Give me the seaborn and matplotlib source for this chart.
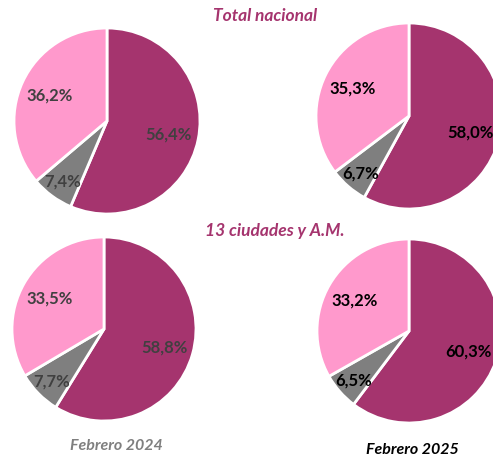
import matplotlib
matplotlib.use("Agg")
import matplotlib.pyplot as plt
import seaborn as sns
import numpy as np

sns.set_theme(style="white")
plt.rcParams['font.family'] = ['Lato', 'DejaVu Sans']

# Shares per panel: [magenta, gray, pink]
feb2024_total = [56.4, 7.4, 36.2]
feb2025_total = [58.0, 6.7, 35.3]
feb2024_13c = [58.8, 7.7, 33.5]
feb2025_13c = [60.3, 6.5, 33.2]

slice_colors = ["#A5346E", "#7F7F7F", "#FF99CC"]
section_titles = ["Total nacional", "13 ciudades y A.M."]
period_labels = ["Febrero 2024", "Febrero 2025"]

W, H = 493, 456
fig = plt.figure(figsize=(W / 100, H / 100), dpi=100)

# pie centers / radius in pixels (from top-left)
panels = [
    (feb2024_total, (107, 122), 93, "#404040"),
    (feb2025_total, (409, 117), 93, "black"),
    (feb2024_13c, (104, 330), 92, "#404040"),
    (feb2025_13c, (409, 332), 92, "black"),
]

label_dist = [0.68, 0.80, 0.68]

for values, (cx, cy), r, tcol in panels:
    ax = fig.add_axes([(cx - r) / W, 1 - (cy + r) / H, 2 * r / W, 2 * r / H])
    wedges, _ = ax.pie(values, colors=slice_colors, startangle=90, counterclock=False,
                       wedgeprops=dict(edgecolor="white", linewidth=2))
    for w, v, d in zip(wedges, values, label_dist):
        ang = np.deg2rad((w.theta1 + w.theta2) / 2)
        ax.text(d * np.cos(ang), d * np.sin(ang), f"{v:.1f}%".replace(".", ","),
                ha="center", va="center", fontsize=12, fontweight="bold", color=tcol)
    ax.set_xlim(-1, 1)
    ax.set_ylim(-1, 1)
    ax.set_aspect("equal")
    ax.axis("off")
    for w in wedges:
        w.set_clip_on(False)

fig.text(265 / W, 1 - 16 / H, section_titles[0], ha="center", va="center",
         fontsize=12.5, fontweight="bold", fontstyle="italic", color="#A5346E")
fig.text(275 / W, 1 - 231 / H, section_titles[1], ha="center", va="center",
         fontsize=12.5, fontweight="bold", fontstyle="italic", color="#A5346E")
fig.text(116 / W, 1 - 446 / H, period_labels[0], ha="center", va="center",
         fontsize=11.5, fontweight="bold", fontstyle="italic", color="#7F7F7F")
fig.text(412 / W, 1 - 450 / H, period_labels[1], ha="center", va="center",
         fontsize=11.5, fontweight="bold", fontstyle="italic", color="black")

fig.savefig("out.png", dpi=100)
